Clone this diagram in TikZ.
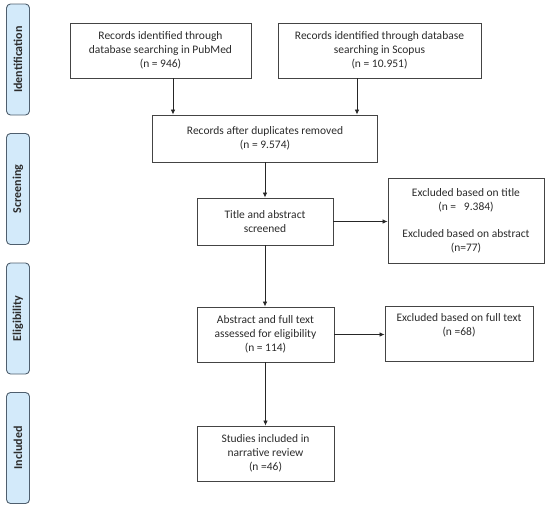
\documentclass[tikz,border=0pt]{standalone}
\usepackage{fontspec}
\setmainfont{Carlito}
\usetikzlibrary{arrows.meta}
\definecolor{phasefill}{HTML}{D3EAFA}
\definecolor{phaseline}{HTML}{4F5F6E}
\definecolor{boxline}{HTML}{444444}
\definecolor{txt}{HTML}{2B2B2B}
\tikzset{
  box/.style={draw=boxline, line width=0.9pt, align=center, text=txt, inner sep=0pt,
    font=\fontsize{11.5}{14}\selectfont},
  phase/.style={draw=phaseline, fill=phasefill, line width=0.9pt, rounded corners=4pt,
    minimum width=111pt, minimum height=23pt, inner sep=0pt, rotate=90,
    font=\fontsize{12}{13}\selectfont\bfseries, text=txt},
  arr/.style={-{Latex[length=5pt,width=4.5pt]}, line width=0.8pt, draw=black!85}
}
\begin{document}
\begin{tikzpicture}[x=1pt, y=-1pt]
		\useasboundingbox (0,0) rectangle (550,507);
		
		% Phase labels on the left
		\node[phase] (ident) at (18,59.5) {Identification};
		\node[phase] (screen) at (18,189) {Screening};
		\node[phase] (elig) at (18,318.5) {Eligibility};
		\node[phase] (incl) at (18,448) {Included};
		
		% Identification
		\node[box, minimum width=181pt, minimum height=55pt] (pubmed) at (160.5,50.5)
			{Records identified through\\database searching in PubMed\\(n = 946)};
		\node[box, minimum width=203pt, minimum height=55pt] (scopus) at (379.5,50.5)
			{Records identified through database\\searching in Scopus\\(n = 10.951)};
		
		% Screening
		\node[box, minimum width=225pt, minimum height=47pt] (dupl) at (265,138.5)
			{Records after duplicates removed\\(n = 9.574)};
		\node[box, minimum width=136pt, minimum height=47pt] (title) at (265,221.5)
			{Title and abstract\\screened};
		\node[box, minimum width=156pt, minimum height=85pt] (exclta) at (466,220.5)
			{Excluded based on title\\(n =\ \ \ 9.384)\\[13pt]Excluded based on abstract\\(n=77)};
		
		% Eligibility
		\node[box, minimum width=137pt, minimum height=55pt] (full) at (265.5,334.5)
			{Abstract and full text\\assessed for eligibility\\(n = 114)};
		\node[box, minimum width=148pt, minimum height=55pt] (exclft) at (459,333.5)
			{Excluded based on full text\\(n =68)\\\strut};
		
		% Included
		\node[box, minimum width=137pt, minimum height=55pt] (studies) at (265.5,453.5)
			{Studies included in\\narrative review\\(n =46)};
		
		% Arrows
		\draw[arr] ([xshift=12.5pt]pubmed.south) -- ([xshift=12.5pt]pubmed.south |- dupl.north);
		\draw[arr] ([xshift=-22.5pt]scopus.south) -- ([xshift=-22.5pt]scopus.south |- dupl.north);
		\draw[arr] (dupl.south) -- (dupl.south |- title.north);
		\draw[arr] (title.south) -- (title.south |- full.north);
		\draw[arr] (full.south) -- (full.south |- studies.north);
		\draw[arr] (title.east) -- (title.east -| exclta.west);
		\draw[arr] (full.east) -- (full.east -| exclft.west);
	\end{tikzpicture}
\end{document}
